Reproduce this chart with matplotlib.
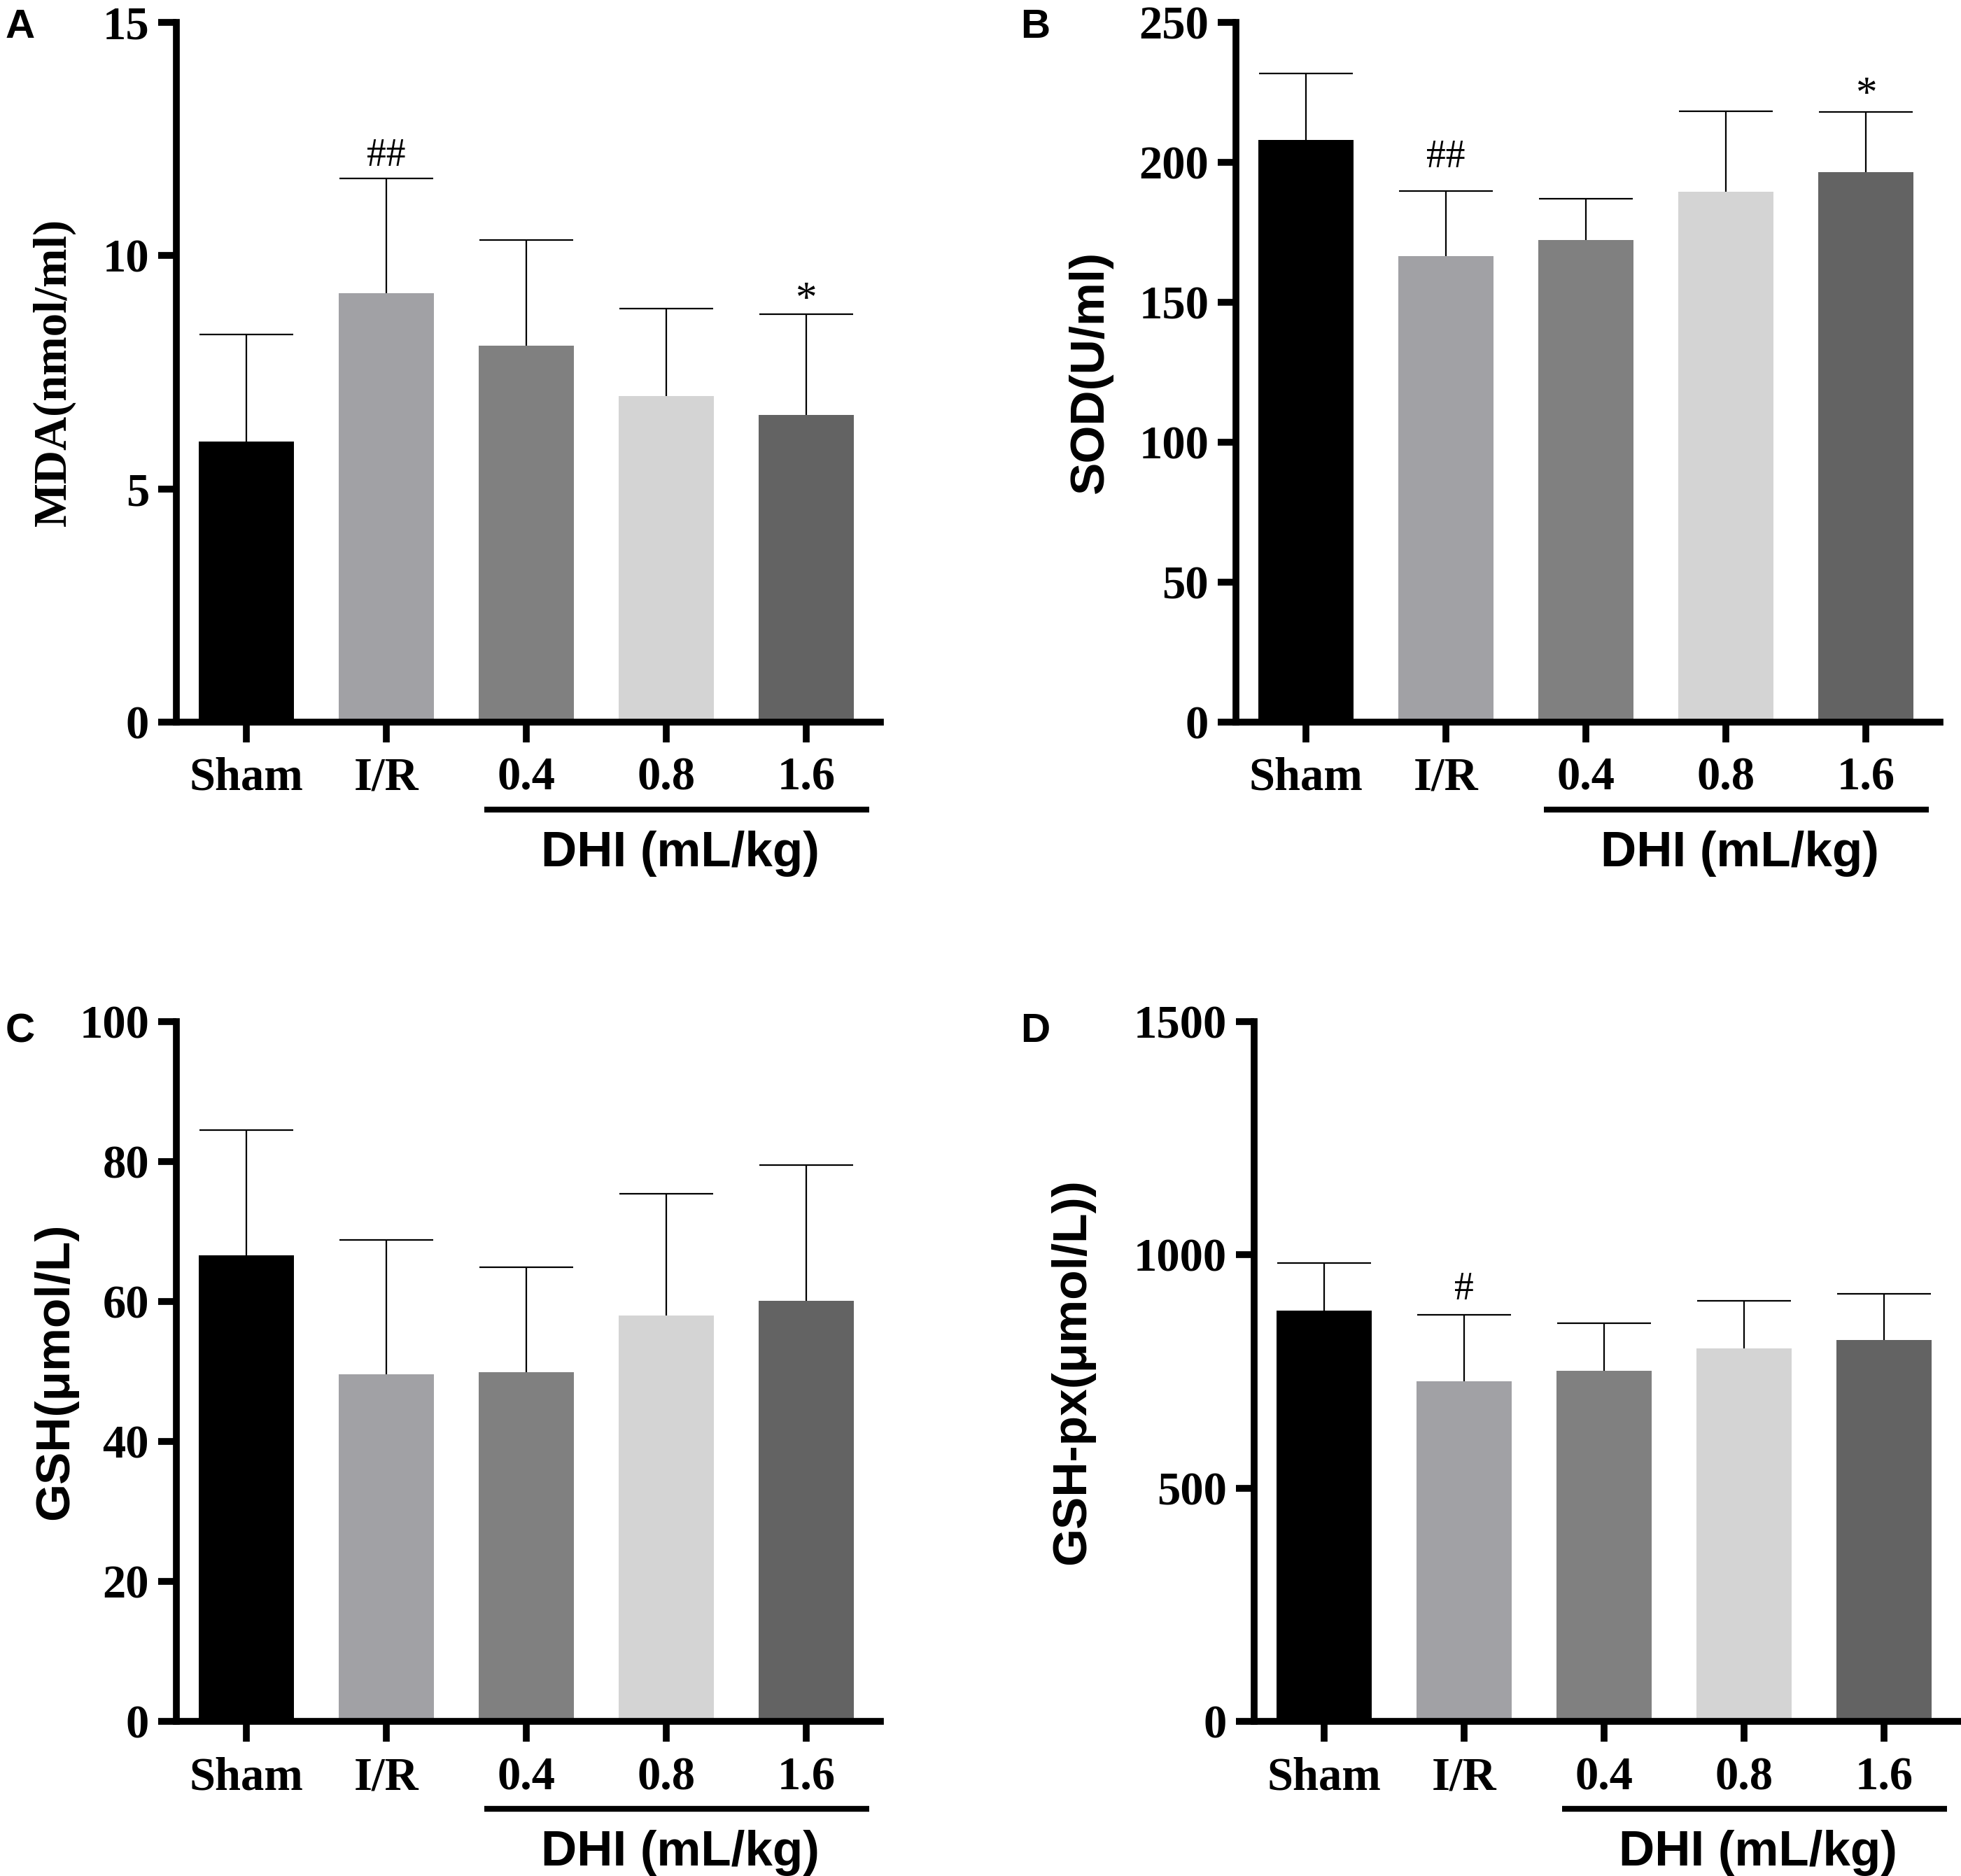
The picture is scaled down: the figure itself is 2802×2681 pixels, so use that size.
import numpy as np
import matplotlib
matplotlib.use("Agg")
import matplotlib.pyplot as plt
import matplotlib.transforms as mtransforms

# ── Data ──────────────────────────────────────────────────────────────────────
groups = ["Sham", "I/R", "0.4", "0.8", "1.6"]
bar_colors = ["#000000", "#a1a1a5", "#808080", "#d4d4d4", "#636363"]

mda_mean = [6.02, 9.20, 8.07, 6.99, 6.59]
mda_sd = [2.29, 2.46, 2.26, 1.88, 2.16]

sod_mean = [208.0, 166.4, 172.2, 189.6, 196.6]
sod_sd = [23.8, 23.4, 14.7, 28.7, 21.3]

gsh_mean = [66.6, 49.6, 49.9, 58.0, 60.1]
gsh_sd = [17.9, 19.2, 15.0, 17.4, 19.4]

gpx_mean = [880, 729, 752, 800, 817]
gpx_sd = [103, 142, 102, 102, 99]

SERIF = "Liberation Serif"
SANS = "Liberation Sans"

# panel: (letter, means, sds, ylabel, label font, yticks, marks, axes rect, ylabel x)
panels = [
    ("A", mda_mean, mda_sd, "MDA(nmol/ml)", SERIF, [0, 5, 10, 15],
     [(1, "##", 13), (4, "*", 3)], [0.0899, 0.6151, 0.3590, 0.3730], -0.143),
    ("B", sod_mean, sod_sd, "SOD(U/ml)", SANS, [0, 50, 100, 150, 200, 250],
     [(1, "##", 24), (4, "*", 7)], [0.6303, 0.6151, 0.3590, 0.3730], -0.175),
    ("C", gsh_mean, gsh_sd, "GSH(μmol/L)", SANS, [0, 20, 40, 60, 80, 100],
     [], [0.0899, 0.0824, 0.3590, 0.3730], -0.140),
    ("D", gpx_mean, gpx_sd, "GSH-px(μmol/L))", SANS, [0, 500, 1000, 1500],
     [(1, "#", 16)], [0.6395, 0.0824, 0.3590, 0.3730], -0.226),
]

fig = plt.figure(figsize=(28.02, 26.81), dpi=100)

for letter, means, sds, ylab, yfont, yticks, marks, rect, ylab_x in panels:
    ax = fig.add_axes(rect)
    x = np.arange(len(groups))
    means = np.asarray(means, dtype=float)
    sds = np.asarray(sds, dtype=float)

    ax.bar(x, means, width=0.68, color=bar_colors, edgecolor="none", zorder=2)
    _, caps, _ = ax.errorbar(
        x, means, yerr=[np.zeros_like(sds), sds], fmt="none",
        ecolor="black", elinewidth=1.6, capsize=48, capthick=1.6, zorder=1,
    )
    caps[0].set_visible(False)  # upper error bar only

    ax.set_xlim(-0.5, 4.53)
    ax.set_ylim(0, yticks[-1])
    ax.set_yticks(yticks)
    ax.set_xticks(x)
    ax.set_xticklabels(groups)

    for side in ["top", "right"]:
        ax.spines[side].set_visible(False)
    for side in ["left", "bottom"]:
        ax.spines[side].set_linewidth(7)

    ax.tick_params(axis="y", direction="out", length=19, width=7, pad=9)
    ax.tick_params(axis="x", direction="out", length=21, width=7, pad=15)
    for lab in ax.get_xticklabels() + ax.get_yticklabels():
        lab.set_fontfamily(SERIF)
        lab.set_fontweight("bold")
        lab.set_fontsize(48)

    ax.set_ylabel(ylab, fontfamily=yfont, fontweight="bold",
                  fontsize=48 if yfont == SERIF else 50)
    ax.yaxis.set_label_coords(ylab_x, 0.5)

    # significance marks above the error bars
    for idx, txt, off in marks:
        ax.annotate(txt, (x[idx], means[idx] + sds[idx]),
                    xytext=(0, off), textcoords="offset points",
                    ha="center", va="baseline", fontfamily=SERIF,
                    fontsize=44 if txt == "*" else 40)

    # DHI dose group underline + caption
    trans = mtransforms.blended_transform_factory(ax.transData, ax.transAxes)
    ax.plot([x[2] - 0.3, x[4] + 0.45], [-0.125, -0.125], color="black",
            linewidth=6, solid_capstyle="butt", transform=trans, clip_on=False)
    ax.text((x[2] + x[4]) / 2 + 0.1, -0.206, "DHI (mL/kg)", transform=trans,
            ha="center", va="baseline", fontfamily=SANS, fontweight="bold",
            fontsize=51)

    # panel letter
    px = 8 / 2802 if letter in "AC" else 1458 / 2802
    py = 1 - 12 / 2681 if letter in "AB" else 1 - 1447 / 2681
    fig.text(px, py, letter, ha="left", va="top", fontfamily=SANS,
             fontweight="bold", fontsize=42)

fig.savefig("out.png", dpi=100, facecolor="white")
